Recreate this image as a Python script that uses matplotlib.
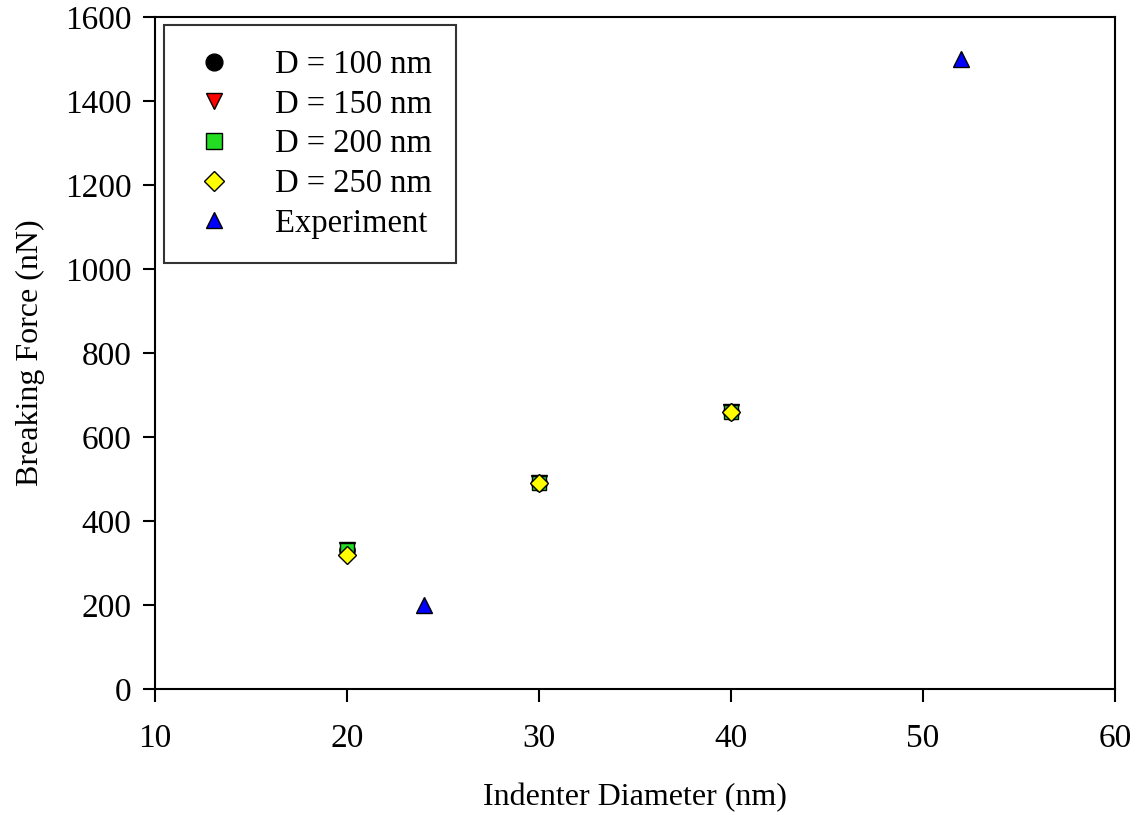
import matplotlib
matplotlib.use('Agg')
import matplotlib.pyplot as plt

plt.rcParams['font.family'] = ['Liberation Serif', 'DejaVu Serif']

# indenter diameter (nm) and breaking force (nN)
sim_x = [20, 30, 40]
d100 = [330, 490, 660]
d150 = [330, 490, 660]
d200 = [332, 490, 660]
d250 = [320, 490, 660]
exp_x = [24, 52]
exp_y = [200, 1500]

fig = plt.figure(figsize=(11.45, 8.15), dpi=100)
ax = fig.add_axes([0.1354, 0.1546, 0.8384, 0.8244])

ms = 11
ax.plot(sim_x, d100, 'o', color='black', mec='black', ms=ms, label='D = 100 nm')
ax.plot(sim_x, d150, 'v', color='red', mec='black', ms=ms, label='D = 150 nm')
ax.plot(sim_x, d200, 's', color='#22dd22', mec='black', ms=ms - 1, label='D = 200 nm')
ax.plot(sim_x, d250, 'D', color='yellow', mec='black', ms=ms - 2, label='D = 250 nm')
ax.plot(exp_x, exp_y, '^', color='blue', mec='black', ms=ms, label='Experiment')

ax.set_xlim(10, 60)
ax.set_ylim(0, 1600)
ax.set_xticks(range(10, 61, 10))
ax.set_yticks(range(0, 1601, 200))
ax.tick_params(direction='out', length=9, width=1.5, labelsize=24, pad=8)
ax.tick_params(axis='x', pad=16)
for s in ax.spines.values():
    s.set_linewidth(1.5)

ax.set_xlabel('Indenter Diameter (nm)', fontsize=23, labelpad=21)
ax.set_ylabel('Breaking Force (nN)', fontsize=23, labelpad=14)

leg = ax.legend(loc='upper left', bbox_to_anchor=(0.009, 0.988), borderaxespad=0,
                fontsize=23.5, frameon=True, fancybox=False, edgecolor='black',
                handletextpad=1.05, borderpad=0.75, labelspacing=0.28, handlelength=1.6,
                markerscale=1.1)
leg.get_frame().set_linewidth(1.5)

fig.savefig('out.png', dpi=100)
